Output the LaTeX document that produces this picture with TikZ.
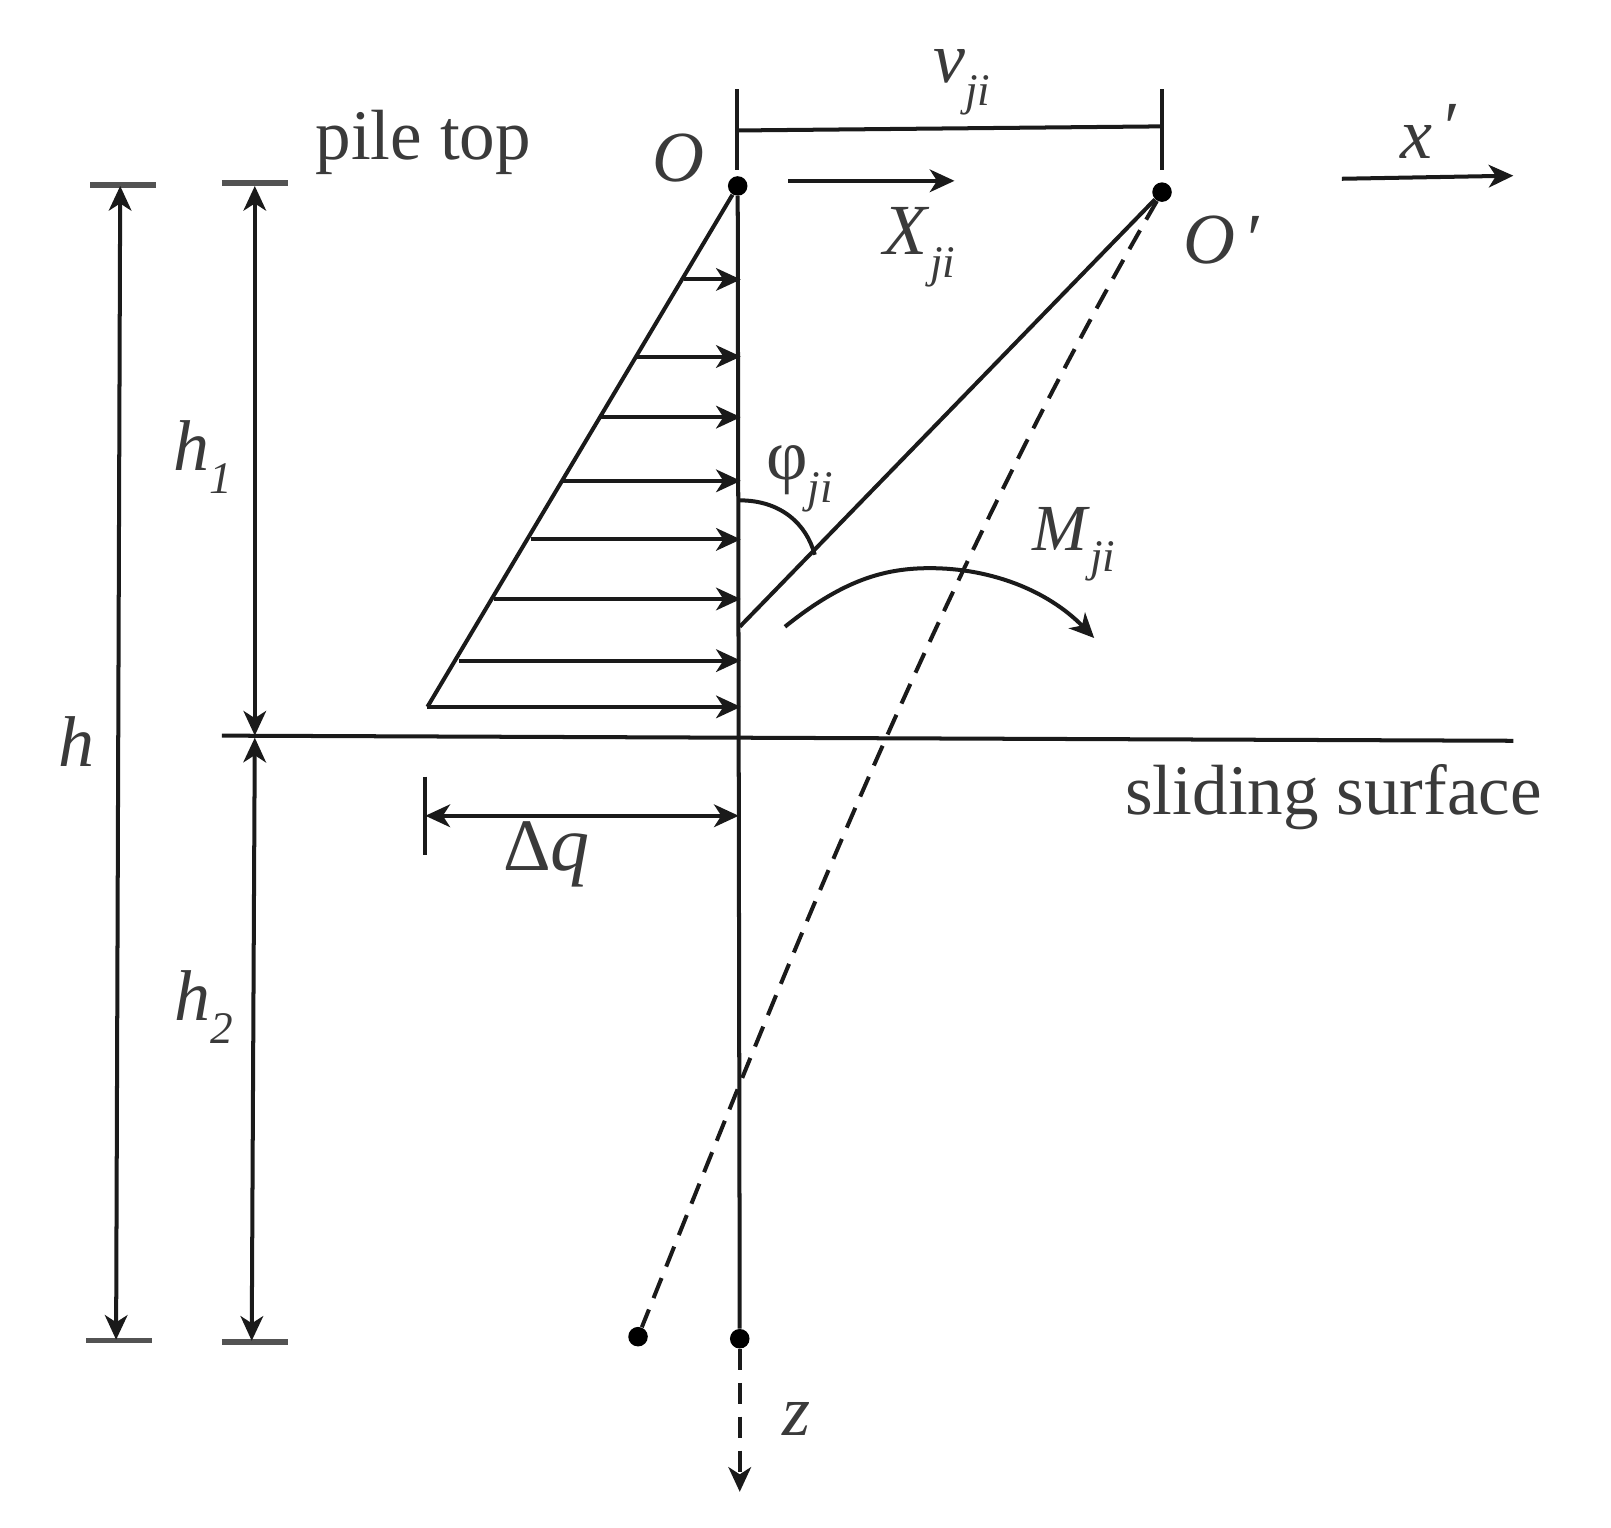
\documentclass[tikz,border=0pt]{standalone}
\usepackage{fontspec}
\setmainfont{Liberation Serif}
\usetikzlibrary{arrows.meta}
\definecolor{ink}{HTML}{1A1A1A}
\definecolor{txt}{HTML}{3A3A3A}
\newcommand{\Lbl}[2]{\textit{#1}\raisebox{-0.32em}{\fontsize{22}{24}\selectfont\textit{#2}}}
\tikzset{
  ln/.style={draw=ink,line width=1.95pt},
  tip/.style={-{Stealth[length=12pt,width=11pt,inset=3.5pt]}},
  tips/.style={{Stealth[length=12pt,width=11pt,inset=3.5pt]}-{Stealth[length=12pt,width=11pt,inset=3.5pt]}},
  dsh/.style={ln,dash pattern=on 10.5pt off 6pt},
  dot/.style={circle,fill=black,inner sep=0pt,minimum size=9.5pt},
  lab/.style={text=txt,font=\fontsize{35}{40}\selectfont,inner sep=0pt},
  word/.style={text=txt,font=\fontsize{34.6}{38}\selectfont,inner sep=0pt},
}
\begin{document}
\begin{tikzpicture}[x=0.5pt,y=-0.5pt]
\useasboundingbox (0,0) rectangle (1568,1487.2);
% points
\node[dot] (O) at (718,181) {};
\node[dot] (Op) at (1131,187) {};
\node[dot] (B) at (720,1303) {};
\node[dot] (Bp) at (621,1301) {};
\coordinate (zend) at (720,1452);
\coordinate (Ot) at (717,87); \coordinate (Ob) at (717,165);
\coordinate (Ppt) at (1131,87); \coordinate (Ppb) at (1131,165);
\coordinate (vl) at (718,127); \coordinate (vr) at (1131,123);
\coordinate (Xa) at (767,176); \coordinate (Xb) at (929,176);
\coordinate (xa) at (1306,174); \coordinate (xb) at (1473,171);
\coordinate (TL) at (416,688);
\coordinate (Pb) at (720,610);
\coordinate (Sl) at (216,716); \coordinate (Sr) at (1473,721);
% pile
\draw[ln] (O) -- (B);
\draw[dsh,tip] (B) -- (zend);
% offset marks
\draw[ln] (Ot) -- (Ob);
\draw[ln] (Ppt) -- (Ppb);
\draw[ln] (vl) -- (vr);
\draw[ln,tip] (Xa) -- (Xb);
\draw[ln,tip] (xa) -- (xb);
% load triangle
\draw[ln] (O) -- (TL);
\foreach \n/\xs/\ys in {a/666/272,b/620/347,c/585/406,d/548/468,e/517/525,f/481/583,g/447/643,h/416/688}{
  \coordinate (s\n) at (\xs,\ys);
  \coordinate (t\n) at (721,\ys);
  \draw[ln,tip] (s\n) -- (t\n);
}
% deflected pile
\draw[ln] (Pb) -- (Op);
\draw[dsh] (Op) .. controls (915,560) and (770,930) .. (Bp);
% angle and moment
\coordinate (pa) at (720,487); \coordinate (pb) at (793,540);
\draw[ln] (pa) .. controls (760,487) and (785,510) .. (pb);
\coordinate (ma) at (764,610); \coordinate (mb) at (1065,621);
\draw[ln,tip] (ma) .. controls (820,565) and (860,553) .. (905,553) .. controls (965,553) and (1020,575) .. (mb);
% sliding surface
\draw[ln] (Sl) -- (Sr);
% dimension lines
\coordinate (hta) at (88,180); \coordinate (htb) at (152,180);
\coordinate (hba) at (84,1305); \coordinate (hbb) at (148,1305);
\coordinate (kta) at (216,178); \coordinate (ktb) at (280,178);
\coordinate (kba) at (216,1306); \coordinate (kbb) at (280,1306);
\draw[line width=2.6pt,draw=ink!75] (hta) -- (htb);
\draw[line width=2.6pt,draw=ink!75] (hba) -- (hbb);
\draw[line width=2.6pt,draw=ink!75] (kta) -- (ktb);
\draw[line width=2.6pt,draw=ink!75] (kba) -- (kbb);
\coordinate (h0) at (117,181); \coordinate (h9) at (113,1304);
\draw[ln,tips] (h0) -- (h9);
\coordinate (a0) at (248,181); \coordinate (a1) at (248,716);
\draw[ln,tips] (a0) -- (a1);
\coordinate (b0) at (248,718); \coordinate (b1) at (245,1305);
\draw[ln,tips] (b0) -- (b1);
% delta q
\coordinate (qa) at (414,756); \coordinate (qb) at (414,832);
\draw[ln] (qa) -- (qb);
\coordinate (qc) at (414,794); \coordinate (qd) at (719,794);
\draw[ln,tips] (qc) -- (qd);
% labels
\node[word] (ptop) at (412,139) {pile top};
\node[word] (slid) at (1298,776) {sliding surface};
\node[lab] (lO) at (660,154) {\textit{O}};
\node[lab] (lOp) at (1191,234) {\textit{O}\,′};
\node[lab] (lv) at (936,80) {\Lbl{v}{ji}};
\node[lab] (lX) at (895,241) {\Lbl{X}{ji}};
\node[lab] (lx) at (1392,128) {\textit{x}\,\raisebox{0.1em}{′}};
\node[lab] (lphi) at (778,466) {φ\raisebox{-0.32em}{\fontsize{22}{24}\selectfont\textit{ji}}};
\node[lab] (lM) at (1045,530) {\fontsize{32}{36}\selectfont\Lbl{M}{ji}};
\node[lab] (lh) at (74,722) {\textit{h}};
\node[lab] (lh1) at (197,445) {\Lbl{h}{1}};
\node[lab] (lh2) at (198,980) {\Lbl{h}{2}};
\node[lab] (lq) at (532,832) {\fontsize{36}{40}\selectfont Δ\fontsize{38}{44}\selectfont\textit{q}};
\node[lab] (lz) at (775,1381) {\textit{z}};
\end{tikzpicture}
\end{document}
